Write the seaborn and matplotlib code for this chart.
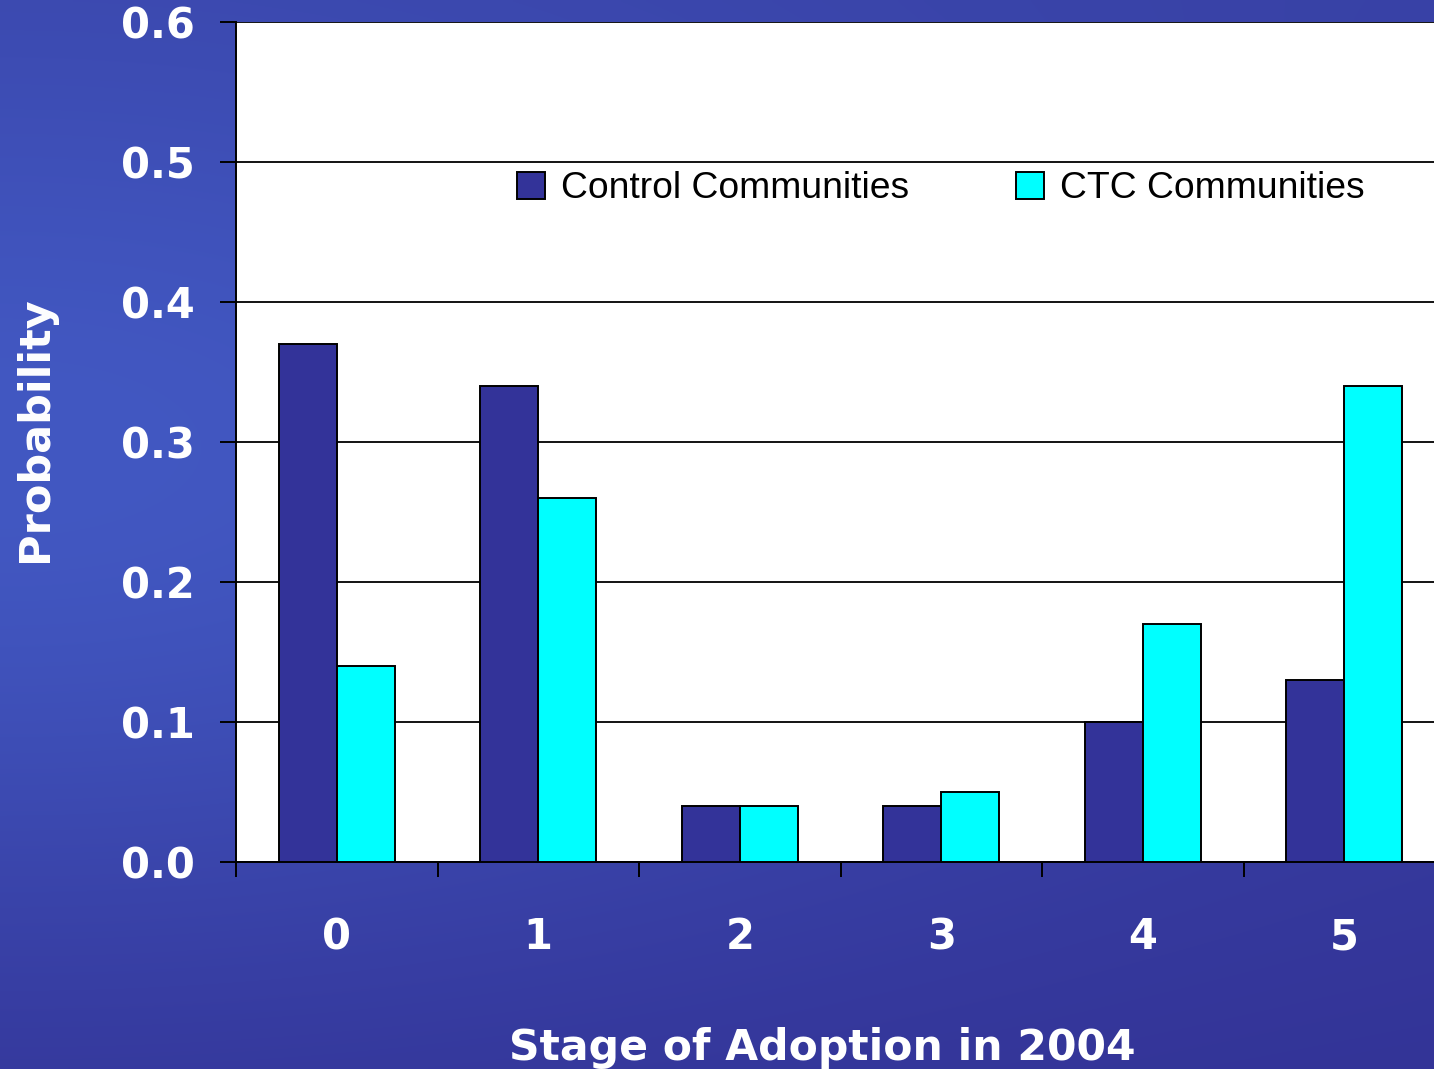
import numpy as np
import pandas as pd
import matplotlib
matplotlib.use("Agg")
import matplotlib.pyplot as plt
import seaborn as sns
from matplotlib.ticker import FixedLocator, NullFormatter

# ---- data ----
stages = ["0", "1", "2", "3", "4", "5"]
control = [0.37, 0.34, 0.04, 0.04, 0.10, 0.13]
ctc = [0.14, 0.26, 0.04, 0.05, 0.17, 0.34]
series_names = ["Control Communities", "CTC Communities"]
ytick_labels = ["0.0", "0.1", "0.2", "0.3", "0.4", "0.5", "0.6"]

df = pd.DataFrame({
    "stage": stages * 2,
    "group": [series_names[0]] * len(stages) + [series_names[1]] * len(stages),
    "prob": control + ctc,
})

sns.set_theme(style="white")
plt.rcParams["font.family"] = ["DejaVu Sans"]

W, H = 1434, 1069
fig = plt.figure(figsize=(W / 100, H / 100), dpi=100)

# ---- gradient background ----
yy, xx = np.mgrid[0:1:300j, 0:1:400j]
light = np.array([66, 88, 194]) / 255.0
dark = np.array([51, 51, 150]) / 255.0
topc = np.array([56, 64, 164]) / 255.0
w = np.exp(-((xx / 0.75) ** 2 + ((yy - 0.42) / 0.45) ** 2))
base = dark + (topc - dark) * (1 - yy)[..., None]
img = base * (1 - w[..., None]) + light * w[..., None]
bg = fig.add_axes([0, 0, 1, 1])
bg.imshow(img, aspect="auto", extent=[0, 1, 0, 1], origin="upper", interpolation="bilinear")
bg.set_axis_off()
bg.set_zorder(-10)

# ---- main axes ----
left = 236 / W
bottom = (H - 862) / H
top = (H - 22) / H
right_px = 236 + 6 * 201.5
ax = fig.add_axes([left, bottom, (right_px - 236) / W, top - bottom])
ax.set_facecolor("white")

sns.barplot(data=df, x="stage", y="prob", hue="group", hue_order=series_names,
            palette=["#333399", "#00FFFF"], width=0.575, edgecolor="black",
            linewidth=1.4, saturation=1, ax=ax, zorder=3)

ax.set_xlim(-0.5, 5.5)
ax.set_ylim(0, 0.6)
ax.set_yticks([0, 0.1, 0.2, 0.3, 0.4, 0.5, 0.6])
ax.set_yticklabels(ytick_labels)
ax.yaxis.grid(True, color="black", linewidth=1.3, zorder=0)
ax.set_axisbelow(True)

for s in ["right", "top"]:
    ax.spines[s].set_visible(False)
for s in ["left", "bottom"]:
    ax.spines[s].set_color("black")
    ax.spines[s].set_linewidth(1.4)

ax.tick_params(axis="y", which="major", left=True, length=11.5, width=1.4,
               color="black", pad=18, labelsize=30, labelcolor="white")
ax.tick_params(axis="x", which="major", bottom=False, length=0, pad=39,
               labelsize=30, labelcolor="white")
ax.xaxis.set_minor_locator(FixedLocator(np.arange(-0.5, 5.6, 1.0)))
ax.xaxis.set_minor_formatter(NullFormatter())
ax.tick_params(axis="x", which="minor", bottom=True, length=11, width=1.4,
               color="black")
for lab in ax.get_xticklabels() + ax.get_yticklabels():
    lab.set_fontweight("bold")

ax.set_xlabel("")
ax.set_ylabel("")

# ---- legend ----
handles, labels = ax.get_legend_handles_labels()
if ax.get_legend() is not None:
    ax.get_legend().remove()
leg = fig.legend(handles, labels, loc="center left",
                 bbox_to_anchor=(517 / W, (H - 189) / H), ncol=2, frameon=False,
                 prop={"family": "Liberation Sans", "size": 26.8},
                 handlelength=0.76, handleheight=0.76, handletextpad=0.43,
                 columnspacing=2.85, borderpad=0, borderaxespad=0)
for t in leg.get_texts():
    t.set_color("black")

# ---- axis titles ----
fig.text(822 / W, 0.0084, "Stage of Adoption in 2004", ha="center", va="baseline",
         color="white", fontsize=30.6, fontweight="bold")
fig.text(35 / W, (H - 429) / H, "Probability", ha="center", va="center",
         rotation=90, color="white", fontsize=31, fontweight="bold")

fig.savefig("out.png", dpi=100)
